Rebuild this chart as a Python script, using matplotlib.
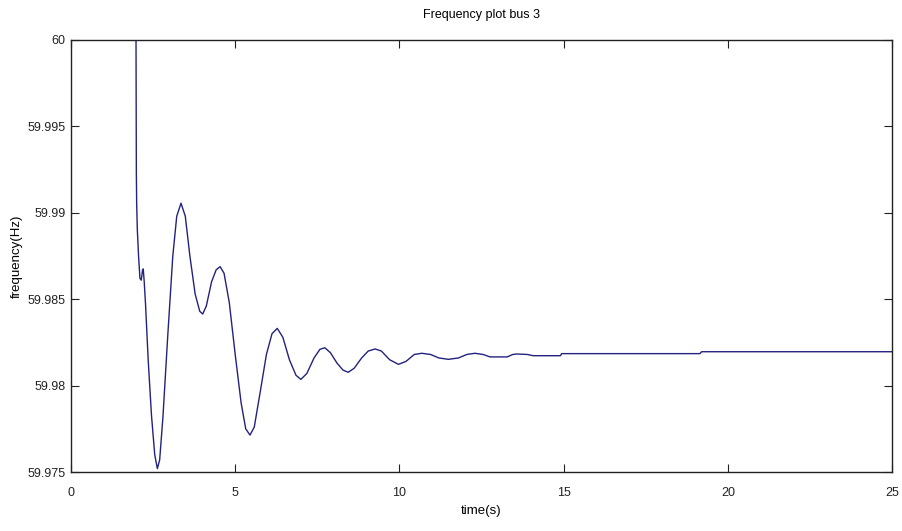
import numpy as np
import matplotlib
matplotlib.use("Agg")
import matplotlib.pyplot as plt
from matplotlib.ticker import FixedLocator, FuncFormatter

plt.rcParams['font.family'] = ['Liberation Sans', 'DejaVu Sans']

# values (time in s, frequency in Hz)
t = [0.0, 1.98, 1.99, 2.00, 2.02, 2.06, 2.10, 2.14, 2.18, 2.20, 2.23, 2.27,
     2.35, 2.45, 2.55, 2.63, 2.70, 2.80, 2.95, 3.10, 3.22, 3.35, 3.48, 3.62,
     3.78, 3.92, 4.01, 4.12, 4.28, 4.42, 4.54, 4.66, 4.82, 5.00, 5.18, 5.32,
     5.45, 5.58, 5.75, 5.95, 6.12, 6.28, 6.45, 6.65, 6.85, 7.00, 7.18, 7.40,
     7.58, 7.73, 7.90, 8.10, 8.28, 8.44, 8.62, 8.85, 9.05, 9.26, 9.45, 9.70,
     9.97, 10.20, 10.45, 10.68, 10.95, 11.20, 11.49, 11.80, 12.05, 12.30,
     12.55, 12.76, 13.28, 13.45, 13.57, 13.90, 14.07, 14.90, 14.94, 19.15,
     19.20, 25.0]
freq = [60.0, 60.0, 59.9923, 59.9905, 59.9890, 59.9874, 59.9862, 59.9861,
        59.9867, 59.98675, 59.9860, 59.9847, 59.9815, 59.9783, 59.9760,
        59.9752, 59.9757, 59.9782, 59.9830, 59.9875, 59.9898, 59.99055,
        59.9898, 59.9875, 59.9853, 59.9843, 59.98414, 59.9846, 59.9860,
        59.9867, 59.98688, 59.9865, 59.9848, 59.9818, 59.9790, 59.9775,
        59.97714, 59.9776, 59.9795, 59.9818, 59.9830, 59.98331, 59.9828,
        59.9815, 59.9806, 59.98036, 59.9807, 59.9816, 59.9821, 59.98219,
        59.9819, 59.9813, 59.9809, 59.98077, 59.9810, 59.9816, 59.9820,
        59.98212, 59.9820, 59.9815, 59.98123, 59.9814, 59.9818, 59.98187,
        59.9818, 59.9816, 59.98152, 59.9816, 59.9818, 59.98187, 59.9818,
        59.98166, 59.98166, 59.9818, 59.98183, 59.9818, 59.98173, 59.98173,
        59.98185, 59.98185, 59.98196, 59.98196]

xticks = [0, 5, 10, 15, 20, 25]
yticks = [59.975, 59.98, 59.985, 59.99, 59.995, 60.0]

fig = plt.figure(figsize=(9.02, 5.31), dpi=100)
ax = fig.add_axes([0.0787, 0.111, 0.9103, 0.814])

ax.plot(t, freq, color='#22227f', linewidth=1.0)

ax.set_xlim(0, 25)
ax.set_ylim(59.975, 60.0)
ax.xaxis.set_major_locator(FixedLocator(xticks))
ax.yaxis.set_major_locator(FixedLocator(yticks))
ax.yaxis.set_major_formatter(FuncFormatter(lambda v, p: '%g' % round(v, 3)))
ax.tick_params(direction='in', length=6, width=0.8, top=True, right=True,
               labelsize=9, colors='#222222')
ax.tick_params(axis='x', pad=11)
ax.tick_params(axis='y', pad=4)

for s in ax.spines.values():
    s.set_linewidth(1.0)
    s.set_color('#222222')

ax.set_title('Frequency plot bus 3', fontsize=9, pad=16)
ax.set_xlabel('time(s)', fontsize=9.5, labelpad=4)
ax.set_ylabel('frequency(Hz)', fontsize=9.5, labelpad=3)

fig.savefig('out.png', dpi=100)
